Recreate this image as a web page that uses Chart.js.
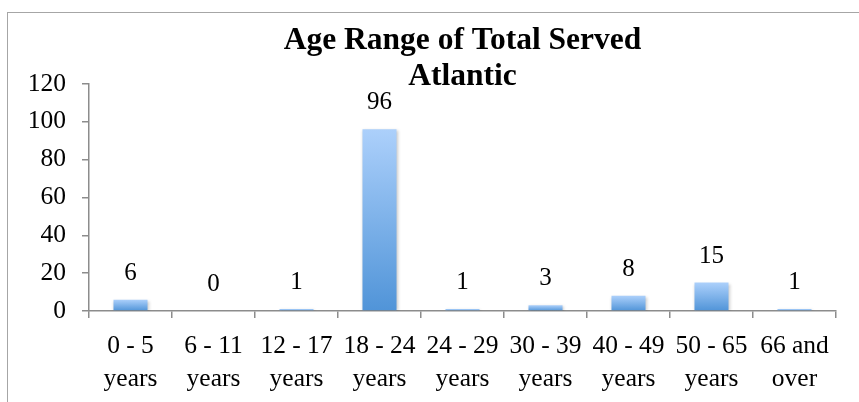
<!DOCTYPE html>
<html>
<head>
<meta charset="utf-8">
<script src="https://cdn.jsdelivr.net/npm/chart.js@4.4.1/dist/chart.umd.min.js"></script>
<style>
    body { margin: 0; background: #fff; overflow: hidden; }
    #frame {
        position: absolute;
        left: 7px; top: 12px;
        width: 900px; height: 450px;
        border: 1px solid #a6a6a6;
    }
    #ageChart { position: absolute; left: 0; top: 0; }
</style>
</head>
<body>
<div id="frame"></div>
<canvas id="ageChart" width="859" height="402"></canvas>
<script>
const titleLines = ['Age Range of Total Served', 'Atlantic'];
const ageRanges = [
    ['0 - 5', 'years'], ['6 - 11', 'years'], ['12 - 17', 'years'],
    ['18 - 24', 'years'], ['24 - 29', 'years'], ['30 - 39', 'years'],
    ['40 - 49', 'years'], ['50 - 65', 'years'], ['66 and', 'over']
];
const servedCounts = [6, 0, 1, 96, 1, 3, 8, 15, 1];
const yTicks = [0, 20, 40, 60, 80, 100, 120];

const serif = 'Liberation Serif, Times New Roman, serif';
const axisGray = '#8c8c8c';

// gradiente claro em cima, escuro embaixo, um por barra
function barGradient(context) {
    const chart = context.chart;
    const y = chart.scales.y;
    if (!y || context.type !== 'data' || !context.parsed) {
        return '#7fb2ec';
    }
    const top = y.getPixelForValue(context.parsed.y);
    let bottom = y.getPixelForValue(0);
    if (!isFinite(top) || !isFinite(bottom)) {
        return '#7fb2ec';
    }
    if (bottom - top < 1) bottom = top + 1;
    const g = chart.ctx.createLinearGradient(0, top, 0, bottom);
    g.addColorStop(0, '#acd0fb');
    g.addColorStop(1, '#5094d8');
    return g;
}

const barShadow = {
    id: 'barShadow',
    beforeDatasetsDraw(chart) {
        const ctx = chart.ctx;
        ctx.save();
        ctx.shadowColor = 'rgba(0, 0, 0, 0.22)';
        ctx.shadowBlur = 3;
        ctx.shadowOffsetX = 1;
        ctx.shadowOffsetY = 1;
    },
    afterDatasetsDraw(chart) {
        chart.ctx.restore();
    }
};

const valueLabels = {
    id: 'valueLabels',
    afterDatasetsDraw(chart) {
        const ctx = chart.ctx;
        const meta = chart.getDatasetMeta(0);
        ctx.save();
        ctx.font = '25px ' + serif;
        ctx.fillStyle = '#000';
        ctx.textAlign = 'center';
        ctx.textBaseline = 'alphabetic';
        meta.data.forEach((bar, i) => {
            ctx.fillText(String(servedCounts[i]), bar.x, bar.y - 20);
        });
        ctx.restore();
    }
};

const ctx = document.getElementById('ageChart').getContext('2d');
const ageChart = new Chart(ctx, {
    type: 'bar',
    data: {
        labels: ageRanges,
        datasets: [{
            data: servedCounts,
            backgroundColor: barGradient,
            borderWidth: 0,
            categoryPercentage: 1,
            barPercentage: 0.41
        }]
    },
    options: {
        responsive: false,
        animation: false,
        devicePixelRatio: 1,
        layout: { padding: { left: 0, right: 23, top: 0, bottom: 0 } },
        plugins: {
            legend: { display: false },
            tooltip: { enabled: false },
            title: {
                display: true,
                text: titleLines,
                fullSize: false,
                color: '#000',
                font: { family: serif, size: 31.5, weight: 'bold', lineHeight: 1.14 },
                padding: { top: 23, bottom: -11 }
            }
        },
        scales: {
            x: {
                grid: {
                    offset: true,
                    drawOnChartArea: false,
                    drawTicks: true,
                    tickLength: 7,
                    color: axisGray,
                    lineWidth: 1.5
                },
                border: { color: axisGray, width: 1.5 },
                ticks: {
                    color: '#000',
                    padding: 12,
                    maxRotation: 0,
                    autoSkip: false,
                    font: { family: serif, size: 25.5, lineHeight: 1.28 }
                },
                afterFit(scale) { scale.height = 91; }
            },
            y: {
                min: 0,
                max: 120,
                afterBuildTicks(scale) {
                    scale.ticks = yTicks.map(v => ({ value: v }));
                },
                grid: {
                    drawOnChartArea: false,
                    drawTicks: true,
                    tickLength: 7,
                    color: axisGray,
                    lineWidth: 1.5
                },
                border: { color: axisGray, width: 1.5 },
                ticks: {
                    color: '#000',
                    padding: 16,
                    font: { family: serif, size: 25.5 }
                },
                afterFit(scale) { scale.width = 89; }
            }
        }
    },
    plugins: [barShadow, valueLabels]
});
</script>
</body>
</html>
